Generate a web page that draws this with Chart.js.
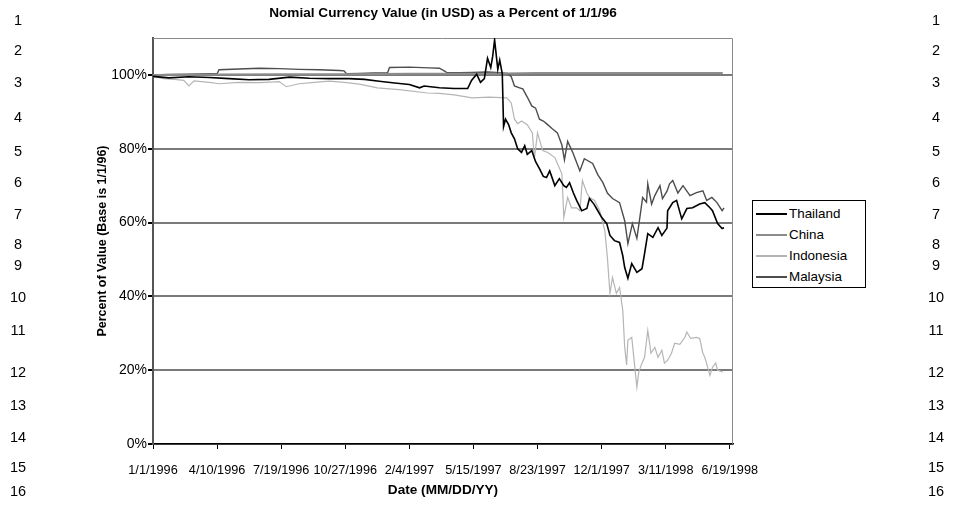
<!DOCTYPE html>
<html>
<head>
<meta charset="utf-8">
<script src="https://cdn.jsdelivr.net/npm/chart.js@4.4.1/dist/chart.umd.min.js"></script>
<style>
  html, body { margin: 0; padding: 0; background: #fff; }
  #page { position: relative; width: 956px; height: 508px; overflow: hidden; font-family: Arial, "Liberation Sans", sans-serif; }
  #wrap { position: absolute; left: 0; top: 0; width: 956px; height: 508px; }
  #title { position: absolute; left: 143px; width: 600px; top: 5px; text-align: center; font-weight: bold; font-size: 13.6px; line-height: 16px; }
  .ln { position: absolute; width: 30px; text-align: center; font-size: 14.5px; line-height: 16px; color: #000; }
  #legend { position: absolute; left: 752px; top: 200px; width: 114px; height: 88px; box-sizing: border-box;
            border: 1px solid #000; padding: 2px 0 0 3px; background: #fff; }
  .item { display: flex; align-items: center; height: 21px; font-size: 13.4px; color: #000; }
  .swatch { width: 31px; margin-right: 2px; }
</style>
</head>
<body>
<div id="page">
  <div id="wrap"><canvas id="chart"></canvas></div>
  <div id="title">Nomial Currency Value (in USD) as a Percent of 1/1/96</div>
  <div id="legend"></div>
</div>
<script>
// Day 0 is 1/1/1996, values are percent of the 1/1/96 value
const START_YEAR = 1996;

const thailandDays = [0, 25, 56, 88, 119, 150, 181, 213, 244, 275, 306, 330, 353, 377, 400, 416, 423, 447, 470, 491,
  497, 505, 511, 517, 522, 527, 530, 533, 538, 541, 545, 547, 550, 555, 559, 564, 569, 575, 580, 584,
  591, 597, 603, 609, 614, 619, 627, 634, 641, 645, 650, 656, 661, 669, 677, 681, 688, 692, 700, 708,
  713, 720, 728, 733, 736, 741, 747, 755, 763, 767, 772, 780, 788, 794, 802, 803, 811, 817, 825, 833,
  842, 853, 861, 869, 873, 881, 888, 891];
const thailandValues = [99.6, 99.2, 99.5, 99.3, 99.0, 98.7, 98.8, 99.4, 99.1, 99.0, 99.0, 98.8, 98.3, 97.8, 97.4, 96.5, 97.0, 96.5, 96.3, 96.3,
  98.5, 100.2, 98.0, 99.0, 104.5, 102.0, 105.0, 109.5, 101.5, 104.0, 100.3, 86.0, 88.0, 86.5, 84.3, 82.7, 80.0, 79.0, 80.8, 78.5,
  79.5, 76.5, 74.6, 72.5, 72.2, 74.0, 70.0, 71.9, 70.0, 69.5, 70.8, 68.0, 66.0, 63.2, 63.8, 66.5, 65.0, 63.8, 61.4, 59.7,
  56.5, 55.1, 54.6, 51.0, 47.8, 44.9, 48.9, 46.5, 47.5, 51.6, 57.0, 56.0, 58.6, 56.5, 58.5, 63.2, 65.4, 66.0, 61.0, 63.8,
  64.0, 65.0, 65.4, 64.0, 63.2, 59.7, 58.4, 58.6];

const chinaDays = [0, 100, 200, 300, 400, 500, 550, 600, 700, 800, 889];
const chinaValues = [100.0, 100.1, 100.2, 100.2, 100.3, 100.3, 100.4, 100.5, 100.5, 100.5, 100.5];

const indonesiaDays = [0, 17, 33, 48, 56, 64, 88, 103, 134, 166, 197, 208, 228, 252, 275, 298, 322, 350, 384, 428,
  447, 470, 498, 525, 552, 559, 564, 569, 575, 584, 592, 595, 600, 608, 616, 627, 631, 638, 641, 647,
  653, 661, 666, 670, 677, 681, 689, 697, 705, 709, 713, 717, 723, 728, 733, 736, 739, 741, 747, 752,
  755, 758, 763, 767, 772, 777, 783, 788, 794, 798, 803, 809, 814, 822, 830, 833, 839, 848, 853, 858,
  861, 866, 869, 873, 878, 881, 889];
const indonesiaValues = [99.5, 99.0, 98.8, 98.5, 97.0, 98.4, 98.0, 97.6, 98.0, 97.9, 98.2, 96.8, 97.6, 98.0, 98.3, 98.0, 97.5, 96.5, 96.0, 95.1,
  95.0, 94.6, 93.8, 94.0, 93.8, 92.4, 88.0, 86.8, 87.5, 86.5, 84.3, 77.3, 84.3, 79.5, 79.0, 77.6, 76.0, 73.2, 61.4, 66.8,
  64.0, 64.0, 63.2, 71.4, 68.0, 66.8, 66.0, 63.2, 57.8, 50.5, 40.8, 45.1, 40.8, 42.4, 36.2, 26.2, 21.4, 28.1, 28.9, 20.5,
  15.4, 19.5, 21.9, 23.5, 30.8, 24.6, 26.2, 23.5, 25.4, 21.9, 22.7, 24.6, 27.3, 27.0, 28.9, 30.3, 28.6, 28.9, 28.6, 24.6,
  23.5, 20.5, 18.6, 20.8, 21.9, 20.0, 19.5];

const malaysiaDays = [0, 25, 56, 88, 100, 103, 134, 166, 197, 228, 259, 291, 298, 302, 322, 345, 366, 369, 400, 431,
  447, 455, 458, 478, 498, 522, 541, 553, 559, 564, 572, 577, 584, 591, 597, 603, 609, 614, 623, 631,
  638, 642, 647, 655, 666, 673, 686, 694, 702, 709, 717, 728, 736, 741, 748, 755, 759, 764, 770, 772,
  778, 783, 791, 795, 802, 806, 811, 819, 827, 838, 848, 858, 864, 872, 880, 888, 891];
const malaysiaValues = [100.0, 100.1, 100.2, 100.3, 100.3, 101.4, 101.6, 101.8, 101.7, 101.5, 101.4, 101.2, 101.1, 100.3, 100.4, 100.5, 100.6, 102.0, 102.1, 101.9,
  101.8, 101.0, 100.7, 100.6, 100.7, 100.8, 100.6, 100.4, 99.5, 97.0, 96.5, 96.2, 94.0, 91.6, 91.0, 88.0, 87.5, 86.8, 85.4, 84.3,
  81.0, 77.0, 82.0, 79.0, 74.0, 77.3, 76.0, 73.0, 70.8, 68.0, 66.5, 65.4, 60.5, 54.3, 59.7, 55.7, 60.5, 66.8, 65.5, 70.5,
  65.0, 67.3, 70.0, 66.5, 68.5, 70.5, 71.4, 68.0, 70.0, 67.3, 68.1, 68.6, 66.0, 66.8, 65.4, 63.2, 64.0];

const xTickDays = [0, 100, 200, 300, 400, 500, 600, 700, 800, 900];
const yTickValues = [0, 20, 40, 60, 80, 100];

const lineNumberTops = [12, 42, 74, 109, 143, 174, 206, 236, 257, 289, 322, 364, 397, 429, 459, 483];

function pairs(days, values) {
  return days.map((d, i) => ({ x: d, y: values[i] }));
}

function dayLabel(day) {
  const d = new Date(START_YEAR, 0, 1 + day);
  return (d.getMonth() + 1) + "/" + d.getDate() + "/" + d.getFullYear();
}

const FONT = 'Arial, "Liberation Sans", sans-serif';
Chart.defaults.font.family = FONT;
Chart.defaults.color = "#000";

// Thin grey frame on top and right of plot area, like the original
const plotFrame = {
  id: "plotFrame",
  beforeDatasetsDraw(chart) {
    const { ctx, chartArea: a } = chart;
    ctx.save();
    ctx.strokeStyle = "#8a8a8a";
    ctx.lineWidth = 1;
    ctx.beginPath();
    ctx.moveTo(a.left, a.top + 0.5);
    ctx.lineTo(a.right - 0.5, a.top + 0.5);
    ctx.lineTo(a.right - 0.5, a.bottom);
    ctx.stroke();
    ctx.restore();
  }
};

const chart = new Chart(document.getElementById("chart"), {
  type: "line",
  data: {
    datasets: [
      { label: "Thailand",  data: pairs(thailandDays, thailandValues),   borderColor: "#000000", borderWidth: 1.6 },
      { label: "China",     data: pairs(chinaDays, chinaValues),         borderColor: "#8c8c8c", borderWidth: 2 },
      { label: "Indonesia", data: pairs(indonesiaDays, indonesiaValues), borderColor: "#b5b5b5", borderWidth: 1.2 },
      { label: "Malaysia",  data: pairs(malaysiaDays, malaysiaValues),   borderColor: "#4d4d4d", borderWidth: 1.4 }
    ]
  },
  options: {
    responsive: true,
    maintainAspectRatio: false,
    animation: false,
    elements: { point: { radius: 0 }, line: { tension: 0 } },
    layout: { padding: { top: 38, left: 0, right: 223, bottom: 0 } },
    plugins: {
      legend: { display: false },
      tooltip: { enabled: false }
    },
    scales: {
      x: {
        type: "linear",
        min: 0,
        max: 905,
        afterBuildTicks: s => { s.ticks = xTickDays.map(v => ({ value: v })); },
        afterFit: s => { s.height = 64; },
        ticks: { callback: v => dayLabel(v), font: { size: 12.7 }, padding: 14, maxRotation: 0, autoSkip: false },
        grid: { drawOnChartArea: false, drawTicks: true, tickLength: 5, tickColor: "#000" },
        border: { display: true, color: "#000", width: 1.5 },
        title: { display: true, text: "Date (MM/DD/YY)", font: { size: 13.6, weight: "bold" }, padding: { top: 0, bottom: 10 } }
      },
      y: {
        min: 0,
        max: 110,
        afterBuildTicks: s => { s.ticks = yTickValues.map(v => ({ value: v })); },
        afterFit: s => { s.width = 153; },
        ticks: { callback: v => v + "%", font: { size: 14 }, padding: 1 },
        grid: { color: "#7a7a7a", lineWidth: 2, tickColor: "#000", tickLength: 5 },
        border: { display: true, color: "#555", width: 2 },
        title: { display: true, text: "Percent of Value (Base is 1/1/96)", font: { size: 12.5, weight: "bold" }, padding: { top: 95, bottom: 0 } }
      }
    }
  },
  plugins: [plotFrame]
});

// Legend box built from the datasets
const legend = document.getElementById("legend");
chart.data.datasets.forEach(ds => {
  const row = document.createElement("div");
  row.className = "item";
  const sw = document.createElement("span");
  sw.className = "swatch";
  sw.style.borderTop = "2px solid " + ds.borderColor;
  row.appendChild(sw);
  row.appendChild(document.createTextNode(ds.label));
  legend.appendChild(row);
});

// Document line numbers on both margins
const page = document.getElementById("page");
lineNumberTops.forEach((top, i) => {
  [3, 921].forEach(left => {
    const el = document.createElement("div");
    el.className = "ln";
    el.style.left = left + "px";
    el.style.top = top + "px";
    el.textContent = String(i + 1);
    page.appendChild(el);
  });
});
</script>
</body>
</html>
